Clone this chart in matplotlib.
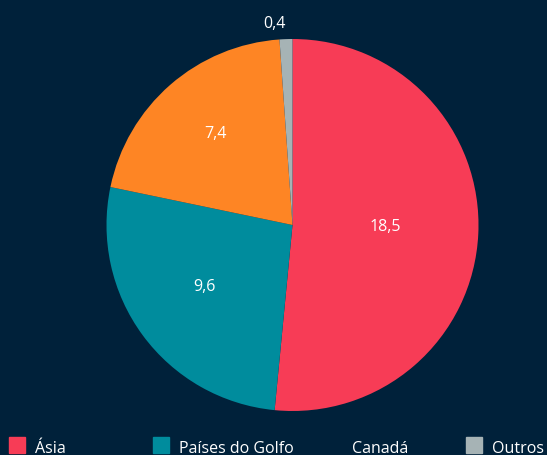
import numpy as np
import matplotlib.pyplot as plt
from matplotlib.patches import Rectangle

# data
categories = ["Ásia", "Países do Golfo", "Canadá", "Outros"]
values = [18.5, 9.6, 7.4, 0.4]
labels = ["18,5", "9,6", "7,4", "0,4"]
colors = ["#F73C56", "#008C9D", "#FE8524", "#A6B3B5"]
bg = "#00213A"

plt.rcParams['font.family'] = ['Open Sans', 'DejaVu Sans']

fig = plt.figure(figsize=(5.47, 4.56), dpi=100, facecolor=bg)
ax = fig.add_axes([106.5 / 547, 44 / 456, 372 / 547, 372 / 456])
ax.set_facecolor(bg)

wedges, _ = ax.pie(values, colors=colors, startangle=90, counterclock=False,
                   radius=1, wedgeprops=dict(linewidth=0))
ax.set_xlim(-1, 1)
ax.set_ylim(-1, 1)
ax.set_aspect('equal')
ax.axis('off')

# value labels (distance from centre tuned per slice)
dist = [0.5, 0.59, 0.63, 1.07]
for w, lab, r in zip(wedges, labels, dist):
    ang = np.deg2rad((w.theta1 + w.theta2) / 2)
    x, y = r * np.cos(ang), r * np.sin(ang) + 0.03
    ax.text(x, y, lab, color="white", fontsize=11.5,
            ha='right' if r > 1 else 'center', va='center_baseline')

# legend drawn by hand (Canadá has no swatch in the original)
leg_x = [9, 153, 326, 466]
for x, name, c in zip(leg_x, categories, colors):
    if name != "Canadá":
        fig.patches.append(Rectangle((x / 547, 2 / 456), 16 / 547, 16 / 456,
                                     transform=fig.transFigure, color=c))
    fig.text((x + 26) / 547, 9 / 456, name, color="white", fontsize=11.5,
             ha='left', va='center_baseline')

fig.savefig("out.png", dpi=100, facecolor=bg)
